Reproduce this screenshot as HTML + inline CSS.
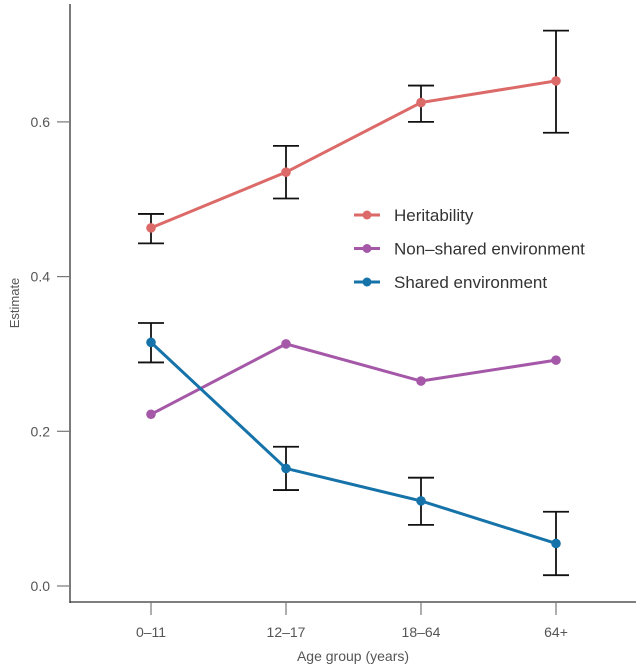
<!DOCTYPE html>
<html><head><meta charset="utf-8"><style>
body{margin:0;background:#fff;}
svg{display:block;font-family:"Liberation Sans",sans-serif;}
</style></head><body>
<svg id="chart" width="640" height="668"></svg>
<script>
const categories=["0–11","12–17","18–64","64+"];
const yTicks=[0.0,0.2,0.4,0.6];
const yTickLabels=["0.0","0.2","0.4","0.6"];
const heritability=[0.463,0.535,0.625,0.653];
const heritabilityLow=[0.443,0.501,0.600,0.586];
const heritabilityHigh=[0.481,0.569,0.647,0.718];
const nonShared=[0.222,0.313,0.265,0.292];
const shared=[0.315,0.152,0.110,0.055];
const sharedLow=[0.289,0.124,0.079,0.014];
const sharedHigh=[0.340,0.180,0.140,0.096];
const seriesNames=["Heritability","Non–shared environment","Shared environment"];

const NS="http://www.w3.org/2000/svg";
const svg=document.getElementById('chart');
function x(i){return 151+i*135;}
function y(v){return 586-v*773.5;}
function el(tag,attrs,parent){const e=document.createElementNS(NS,tag);for(const k in attrs)e.setAttribute(k,attrs[k]);(parent||svg).appendChild(e);return e;}
const axC="#333";
let a=el('line',{x1:70,y1:4,x2:70,y2:603,stroke:axC,'stroke-width':1.3});


a=el('line',{x1:69.4,y1:602,x2:636,y2:602,stroke:axC,'stroke-width':1.3});


yTicks.forEach((v,i)=>{
  let t=el('line',{x1:57,y1:y(v),x2:70,y2:y(v),stroke:'#777','stroke-width':1.2});
  
  
  let tx=el('text',{x:50,y:y(v)+5,'text-anchor':'end','font-size':14,fill:'#555'});
  tx.textContent=yTickLabels[i];
  
  
});
categories.forEach((c,i)=>{
  let t=el('line',{x1:x(i),y1:602,x2:x(i),y2:615,stroke:'#777','stroke-width':1.2});
  
  
  let tx=el('text',{x:x(i),y:637,'text-anchor':'middle','font-size':14,fill:'#555'});
  tx.textContent=c;
  
  
});
let t=el('text',{x:353,y:661,'text-anchor':'middle','font-size':14,fill:'#555'});
t.textContent="Age group (years)";


t=el('text',{x:19,y:303,'text-anchor':'middle','font-size':13,fill:'#555',transform:'rotate(-90 19 303)'});
t.textContent="Estimate";



function series(vals,color,name,lo,hi){
  const g=el('g',{});
  
  
  const pts=vals.map((v,i)=>x(i)+','+y(v)).join(' ');
  let p=el('polyline',{points:pts,fill:'none',stroke:color,'stroke-width':3},g);
  
  
  if(lo){vals.forEach((v,i)=>{
    const eg=el('g',{stroke:'#111','stroke-width':1.8},g);
    
    
    el('line',{x1:x(i),x2:x(i),y1:y(lo[i]),y2:y(hi[i])},eg);
    el('line',{x1:x(i)-13,x2:x(i)+13,y1:y(lo[i]),y2:y(lo[i])},eg);
    el('line',{x1:x(i)-13,x2:x(i)+13,y1:y(hi[i]),y2:y(hi[i])},eg);
  });}
  vals.forEach((v,i)=>{
    let c=el('circle',{cx:x(i),cy:y(v),r:4.8,fill:color},g);
    
    
  });
}
const colors=["#dc6a68","#a558a8","#1673aa"];
series(heritability,colors[0],'heritability',heritabilityLow,heritabilityHigh);
series(nonShared,colors[1],'non-shared-environment');
series(shared,colors[2],'shared-environment',sharedLow,sharedHigh);

seriesNames.forEach((n,i)=>{
  const ly=215+i*33.5;
  const g=el('g',{});
  
  
  el('line',{x1:354,x2:380,y1:ly,y2:ly,stroke:colors[i],'stroke-width':3},g);
  el('circle',{cx:367,cy:ly,r:4.5,fill:colors[i]},g);
  const tx=el('text',{x:394,y:ly+6,'font-size':17,fill:'#333'},g);
  tx.textContent=n;
});
</script>
</body></html>
